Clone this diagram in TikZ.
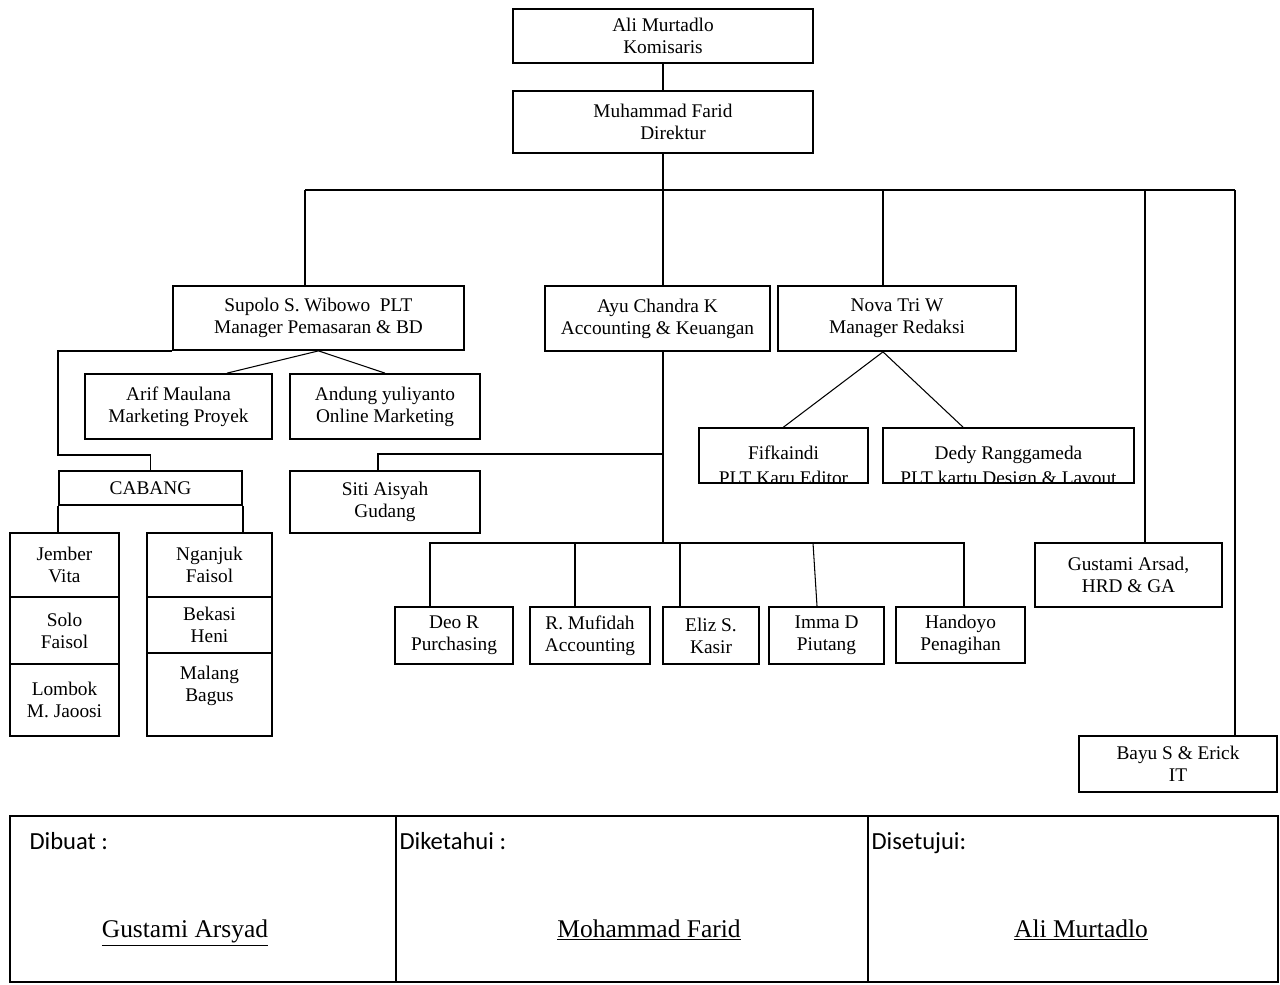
\documentclass[tikz,border=0pt]{standalone}
\usepackage{fontspec}
\setmainfont{Liberation Serif}
\newfontfamily\signfont{Carlito}
\tikzset{
  box/.style={draw, line width=1pt, align=center, inner sep=0pt, font=\fontsize{11}{12.5}\selectfont},
  cell/.style={draw, line width=1pt, inner sep=0pt},
  conn/.style={line width=0.8pt},
  slim/.style={line width=0.6pt},
  sign/.style={inner sep=0pt, font=\signfont\fontsize{14}{16}\selectfont},
  signer/.style={inner sep=0pt, font=\fontsize{14.5}{16}\selectfont},
}
\begin{document}
\begin{tikzpicture}[x=0.02cm, y=-0.02cm]
\useasboundingbox (0,0) rectangle (1280,984);
% pimpinan
\node[box, minimum width=6cm, minimum height=1.08cm] (kom) at (663,36) {Ali Murtadlo\\Komisaris};
\node[box, minimum width=6cm, minimum height=1.24cm] (dir) at (663,122) {Muhammad Farid\\\hspace*{0.4cm}Direktur};
% manajer
\node[box, minimum width=5.82cm, minimum height=1.28cm] (sup) at (318.5,318) {Supolo S. Wibowo\ \ PLT\\Manager Pemasaran \& BD};
\node[box, minimum width=4.5cm, minimum height=1.3cm] (ayu) at (657.5,318.5) {Ayu Chandra K\\Accounting \& Keuangan};
\node[box, minimum width=4.76cm, minimum height=1.3cm] (nova) at (897,318.5) {Nova Tri W\\Manager Redaksi};
\node[box, minimum width=3.74cm, minimum height=1.28cm] (gus) at (1128.5,575) {Gustami Arsad,\\HRD \& GA};
\node[box, minimum width=3.96cm, minimum height=1.12cm] (bayu) at (1178,764) {Bayu S \& Erick\\IT};
% pemasaran
\node[box, minimum width=3.74cm, minimum height=1.3cm] (arif) at (178.5,406.5) {Arif Maulana\\Marketing Proyek};
\node[box, minimum width=3.8cm, minimum height=1.3cm] (andung) at (385,406.5) {Andung yuliyanto\\Online Marketing};
\node[box, minimum width=3.66cm, minimum height=0.68cm] (cabang) at (150.5,488) {CABANG};
\node[box, minimum width=2.18cm, minimum height=1.28cm] (jember) at (64.5,565) {Jember\\Vita};
\node[box, minimum width=2.18cm, minimum height=1.34cm] (solo) at (64.5,630.5) {Solo\\Faisol};
\node[box, minimum width=2.18cm, minimum height=1.44cm] (lombok) at (64.5,700) {Lombok\\M. Jaoosi};
\node[box, minimum width=2.5cm, minimum height=1.28cm] (nganjuk) at (209.5,565) {Nganjuk\\Faisol};
\node[box, minimum width=2.5cm, minimum height=1.12cm] (bekasi) at (209.5,625) {Bekasi\\Heni};
\node[box, minimum width=2.5cm, minimum height=1.66cm] (malang) at (209.5,694.5) {Malang\\Bagus\\\mbox{}};
% redaksi
\node[box, minimum width=3.38cm, minimum height=1.1cm] (fif) at (783.5,455.5) {};
\node[box, minimum width=5.02cm, minimum height=1.1cm] (dedy) at (1008.5,455.5) {};
\begin{scope}
\clip (fif.north west) rectangle ([yshift=0.02cm]fif.south east);
\node[box, draw=none, anchor=south, text depth=0pt, font=\fontsize{11}{14}\selectfont] (fift) at ([yshift=-0.02cm]fif.south) {Fifkaindi\\PLT Karu Editor};
\end{scope}
\begin{scope}
\clip (dedy.north west) rectangle ([yshift=0.02cm]dedy.south east);
\node[box, draw=none, anchor=south, text depth=0pt, font=\fontsize{11}{14}\selectfont] (dedyt) at ([yshift=-0.02cm]dedy.south) {Dedy Ranggameda\\PLT kartu Design \& Layout};
\end{scope}
% keuangan
\node[box, minimum width=3.8cm, minimum height=1.24cm] (siti) at (385,502) {Siti Aisyah\\Gudang};
\node[box, minimum width=2.36cm, minimum height=1.14cm] (deo) at (454,635.5) {Deo R\\Purchasing};
\node[box, minimum width=2.4cm, minimum height=1.14cm] (muf) at (590,635.5) {R. Mufidah\\Accounting};
\node[box, minimum width=1.92cm, minimum height=1.14cm] (eliz) at (711,635.5) {Eliz S.\\Kasir};
\node[box, minimum width=2.3cm, minimum height=1.14cm] (imma) at (826.5,635.5) {Imma D\\Piutang};
\node[box, minimum width=2.58cm, minimum height=1.12cm] (hand) at (960.5,635) {Handoyo\\Penagihan};
% garis
\coordinate (busl) at (305,190);
\coordinate (busr) at (1235,190);
\coordinate (red) at (883,190);
\coordinate (hrd) at (1145,190);
\coordinate (acc) at (663,543);
\coordinate (gud) at (663,454);
\draw[conn] (kom) -- (dir);
\draw[conn] (busl) -- (busr);
\draw[conn] (dir.south) -- (dir.south |- ayu.north);
\draw[conn] (busl) -- (busl |- sup.north);
\draw[conn] (red) -- (red |- nova.north);
\draw[conn] (hrd) -- (hrd |- gus.north);
\draw[conn] (busr) -- (busr |- bayu.north);
\draw[slim] ([xshift=0.97cm]arif.north) -- (sup.south) -- (andung.north);
\draw[conn] (sup.south west) -- ++(-114,0) -- ++(0,104) -| (cabang.north);
\draw[conn] (cabang.south west) -- (cabang.south west |- jember.north);
\draw[conn] (cabang.south east) -- (cabang.south east |- nganjuk.north);
\draw[slim] (fif.north) -- (nova.south -| red) -- ([xshift=-0.91cm]dedy.north);
\draw[conn] (ayu.south -| acc) -- (acc);
\draw[conn] (gud) -| ([xshift=-0.14cm]siti.north);
\foreach \n/\s in {deo/-0.48, muf/-0.3, eliz/-0.62, hand/0.07}
  \draw[conn] ([xshift=\s cm]\n.north) |- (acc);
\draw[slim] ([xshift=-0.19cm]imma.north) -- ([xshift=-0.27cm]imma.north |- acc);
% pengesahan
\node[cell, minimum width=7.72cm, minimum height=3.32cm] (dib) at (203,899) {};
\node[cell, minimum width=9.44cm, minimum height=3.32cm] (dik) at (632,899) {};
\node[cell, minimum width=8.2cm, minimum height=3.32cm] (dis) at (1073,899) {};
\node[sign, anchor=base west] (dibt) at ([shift={(20,34)}]dib.north west) {Dibuat :};
\node[sign, anchor=base west] (dikt) at ([shift={(4,34)}]dik.north west) {Diketahui :};
\node[sign, anchor=base west] (dist) at ([shift={(4,34)}]dis.north west) {Disetujui:};
\node[signer, anchor=base] (dibn) at (185,937) {\underline{Gustami Arsyad}};
\node[signer, anchor=base] (dikn) at (649,937) {\underline{Mohammad Farid}};
\node[signer, anchor=base] (disn) at (1081,937) {\underline{Ali Murtadlo}};
\end{tikzpicture}
\end{document}
